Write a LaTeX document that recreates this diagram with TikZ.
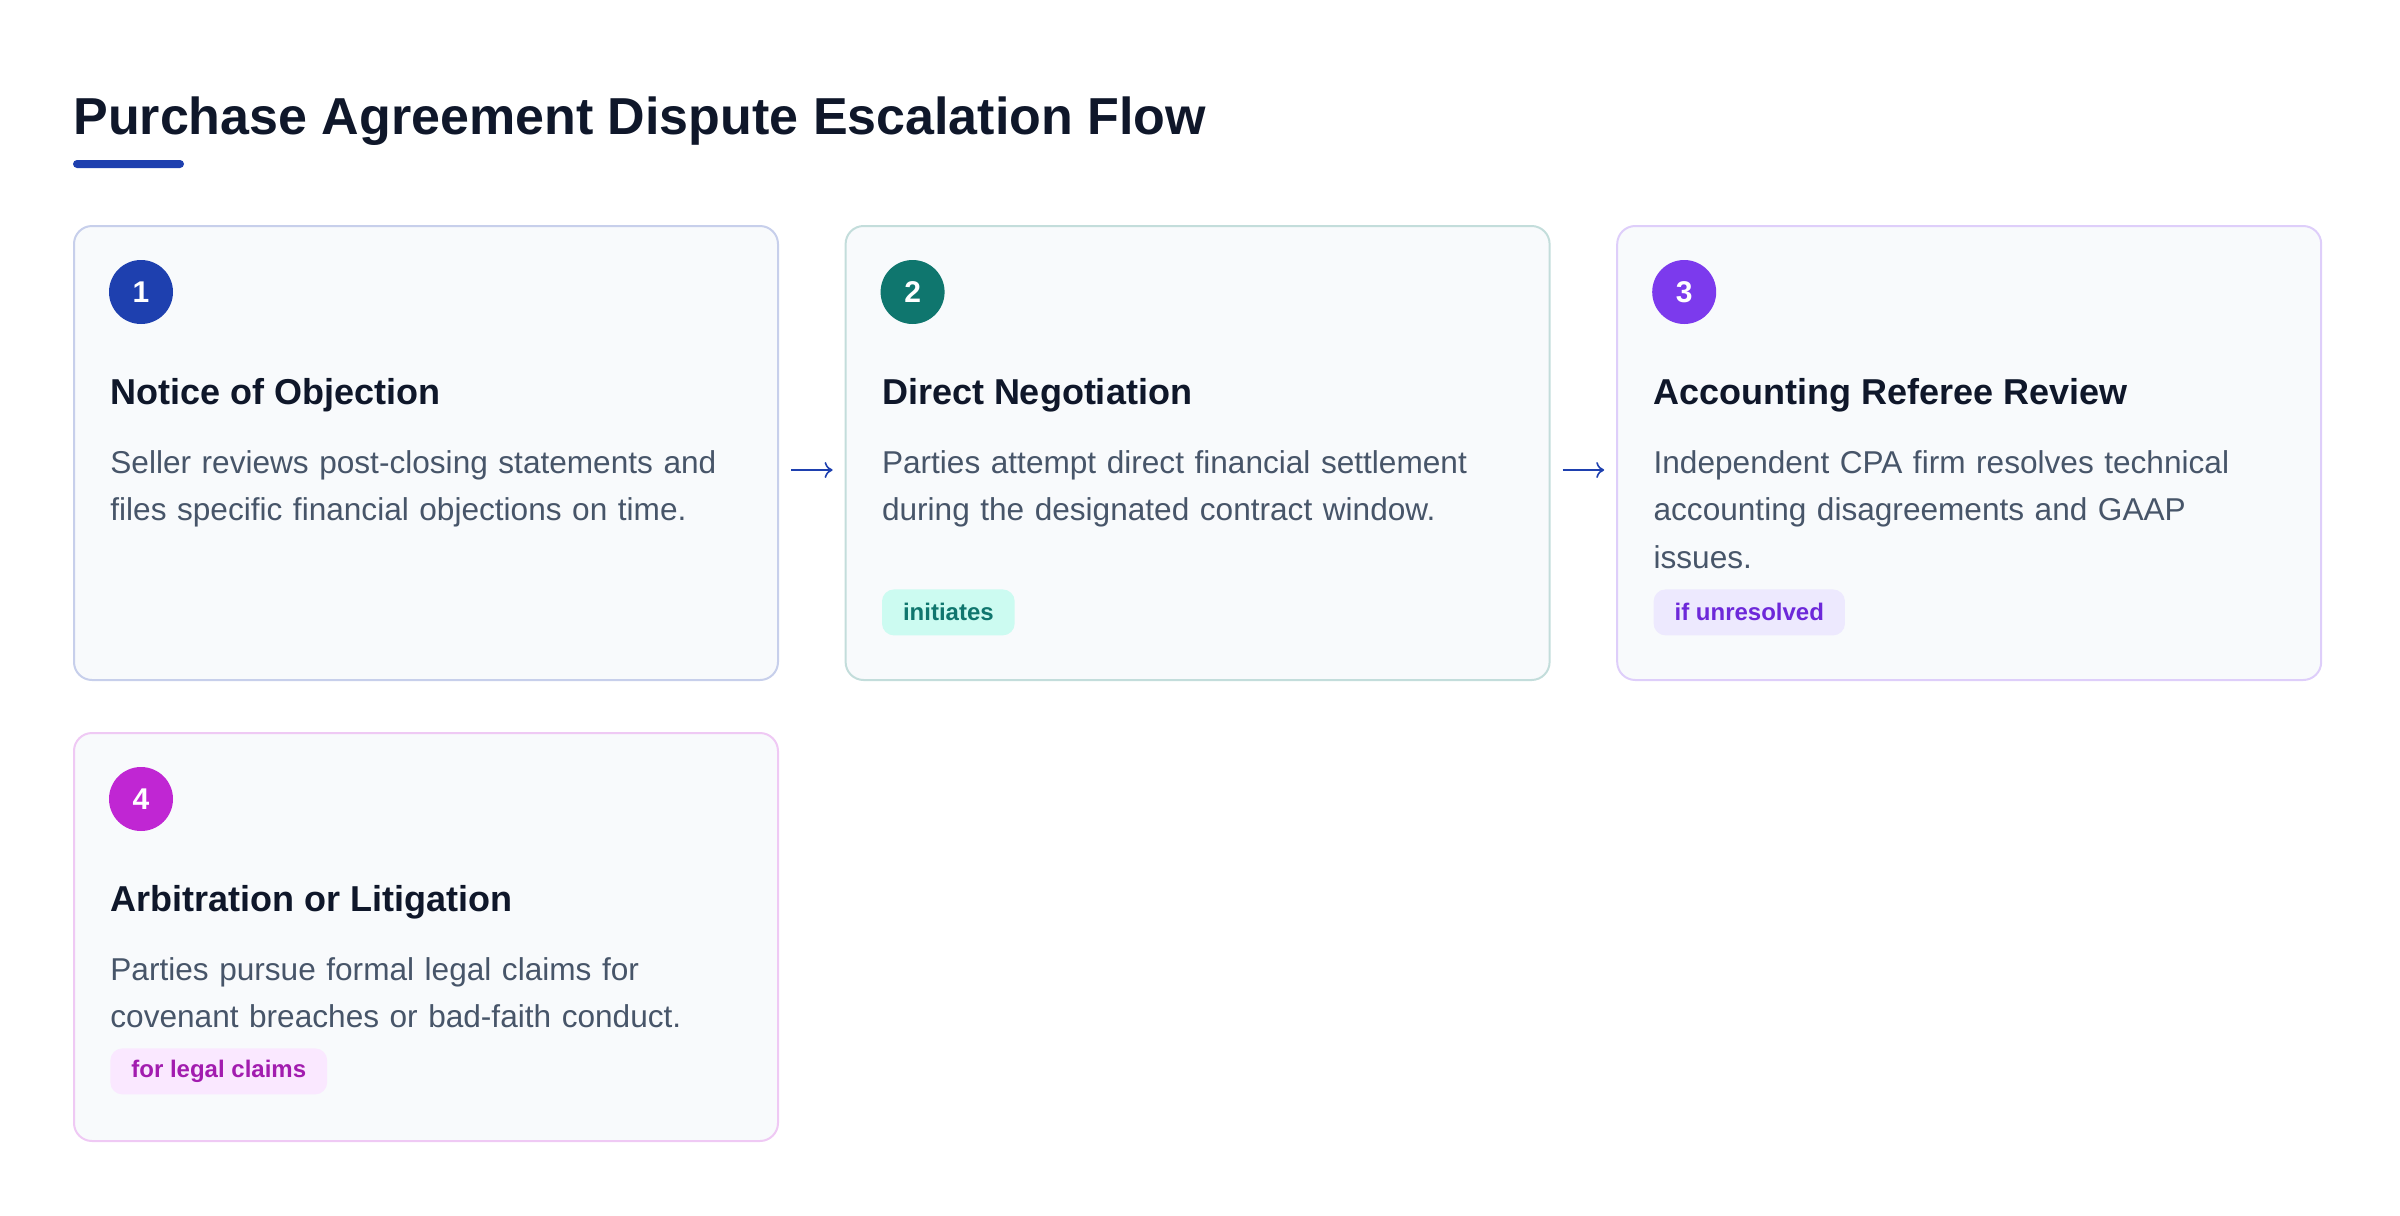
\documentclass[tikz,border=0pt]{standalone}
\usepackage{fontspec}
\setmainfont{Liberation Sans}
\usetikzlibrary{positioning}
\usetikzlibrary{arrows.meta}

\definecolor{ink}{HTML}{0F172A}
\definecolor{prose}{HTML}{475569}
\definecolor{paper}{HTML}{F8FAFC}
\definecolor{blueone}{HTML}{1E40AF}
\definecolor{tealtwo}{HTML}{0F766E}
\definecolor{violetthree}{HTML}{7C3AED}
\definecolor{fuchsiafour}{HTML}{C026D3}
\definecolor{tealtag}{HTML}{CCFBF1}
\definecolor{violettag}{HTML}{EDE9FE}
\definecolor{violettext}{HTML}{6D28D9}
\definecolor{fuchsiatag}{HTML}{FAE8FF}
\definecolor{fuchsiatext}{HTML}{A21CAF}

\begin{document}
\begin{tikzpicture}
\tikzset{
   node distance = 32.8pt, >={To[length=4pt,width=8pt]},
   card/.style = {rectangle, draw, line width = 1pt, fill = paper, rounded corners = 9pt, minimum width = 352pt, minimum height = 227pt, inner sep = 0pt},
   badge/.style = {circle, inner sep = 0pt, minimum size = 32pt, text = white, font = \fontsize{15pt}{15pt}\selectfont\bfseries},
   stephead/.style = {anchor = base west, inner sep = 0pt, text = ink, font = \fontsize{18pt}{22pt}\selectfont\bfseries},
   desc/.style = {anchor = base west, inner sep = 0pt, text = prose, text width = 320pt, align = left, font = \fontsize{15.8pt}{23.8pt}\selectfont},
   tag/.style = {anchor = north west, rounded corners = 6pt, inner xsep = 10.5pt, inner ysep = 0pt, minimum height = 23pt, font = \fontsize{12pt}{14pt}\selectfont\bfseries}
}
  \useasboundingbox (0,0) rectangle (1200pt,-608pt);

  \node [anchor = base west, inner sep = 0pt, text = ink, font = \fontsize{26pt}{30pt}\selectfont\bfseries] (title) at (36.5pt,-67pt) {Purchase Agreement Dispute Escalation Flow};
  \fill [blueone, rounded corners = 2pt] (36.5pt,-80pt) rectangle (92pt,-84pt);

  % cards
  \node [card, draw = blueone!25, anchor = north west] (c1) at (36.5pt,-112.5pt) {};
  \node [card, draw = tealtwo!25] (c2) [right = of c1] {};
  \node [card, draw = violetthree!25] (c3) [right = of c2] {};
  \node [card, draw = fuchsiafour!25, minimum height = 204pt] (c4) [below = 25.5pt of c1] {};

  \draw [->, blueone, line width = 0.8pt, shorten <= 6pt, shorten >= 6pt] ([yshift=-8.5pt]c1.east) -- ([yshift=-8.5pt]c2.west);
  \draw [->, blueone, line width = 0.8pt, shorten <= 6pt, shorten >= 6pt] ([yshift=-8.5pt]c2.east) -- ([yshift=-8.5pt]c3.west);

  % 1
  \node [badge, fill = blueone] (b1) at ([xshift=34pt,yshift=-33.5pt]c1.north west) {1};
  \node [stephead] (h1) at ([xshift=18.5pt,yshift=-89.5pt]c1.north west) {Notice of Objection};
  \node [desc] (d1) at ([xshift=18.5pt,yshift=-124pt]c1.north west) {Seller reviews post-closing statements and\\files specific financial objections on time.};

  % 2
  \node [badge, fill = tealtwo] (b2) at ([xshift=34pt,yshift=-33.5pt]c2.north west) {2};
  \node [stephead] (h2) at ([xshift=18.5pt,yshift=-89.5pt]c2.north west) {Direct Negotiation};
  \node [desc] (d2) at ([xshift=18.5pt,yshift=-124pt]c2.north west) {Parties attempt direct financial settlement\\during the designated contract window.};
  \node [tag, fill = tealtag, text = tealtwo] (t2) at ([xshift=18.5pt,yshift=-182pt]c2.north west) {initiates};

  % 3
  \node [badge, fill = violetthree] (b3) at ([xshift=34pt,yshift=-33.5pt]c3.north west) {3};
  \node [stephead] (h3) at ([xshift=18.5pt,yshift=-89.5pt]c3.north west) {Accounting Referee Review};
  \node [desc] (d3) at ([xshift=18.5pt,yshift=-124pt]c3.north west) {Independent CPA firm resolves technical\\accounting disagreements and GAAP\\issues.};
  \node [tag, fill = violettag, text = violettext] (t3) at ([xshift=18.5pt,yshift=-182pt]c3.north west) {if unresolved};

  % 4
  \node [badge, fill = fuchsiafour] (b4) at ([xshift=34pt,yshift=-33.5pt]c4.north west) {4};
  \node [stephead] (h4) at ([xshift=18.5pt,yshift=-89.5pt]c4.north west) {Arbitration or Litigation};
  \node [desc] (d4) at ([xshift=18.5pt,yshift=-124pt]c4.north west) {Parties pursue formal legal claims for\\covenant breaches or bad-faith conduct.};
  \node [tag, fill = fuchsiatag, text = fuchsiatext] (t4) at ([xshift=18.5pt,yshift=-158pt]c4.north west) {for legal claims};

\end{tikzpicture}
\end{document}
